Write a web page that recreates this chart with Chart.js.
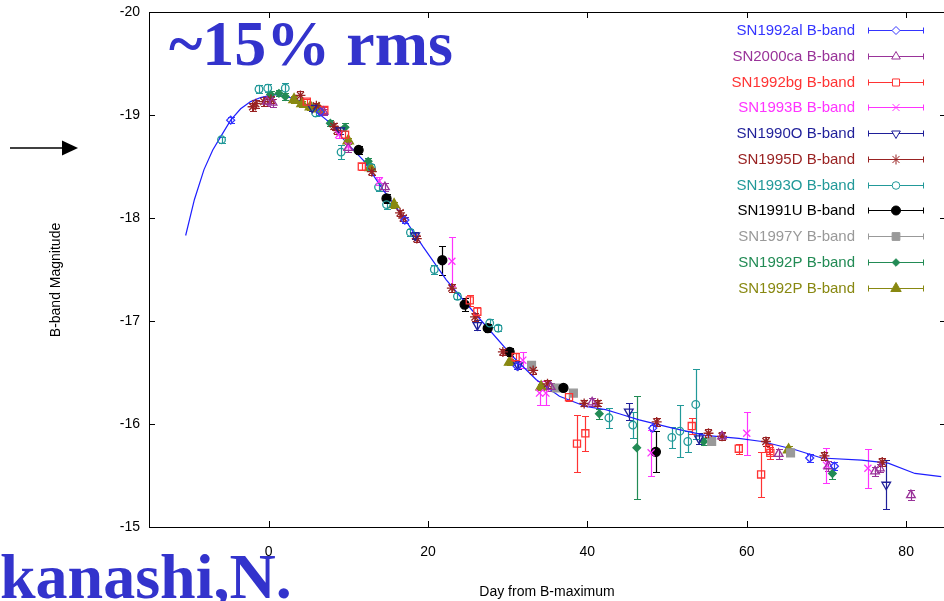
<!DOCTYPE html>
<html>
<head>
<meta charset="utf-8">
<script src="https://cdn.jsdelivr.net/npm/chart.js@4.4.1/dist/chart.umd.min.js"></script>
<style>
    html, body { margin: 0; padding: 0; background: #fff; overflow: hidden; }
    #c { display: block; }
</style>
</head>
<body>
<canvas id="c" width="947" height="601" style="width:947px;height:601px"></canvas>
<script>
// Light-curve data: day from B maximum, B-band magnitude, error
const xTicks = [0, 20, 40, 60, 80];
const yTicks = [-20, -19, -18, -17, -16, -15];

const templateDays = [-10.4, -9.3, -8.1, -7.0, -6.0, -4.75, -3.5, -2.25, -1.0, 0.25, 1.3, 2.3, 3.8, 5.25, 7.3, 9.8, 11.9, 14.4, 16.9, 19.4, 22.3, 24.8, 27.75, 30.7, 33.6, 36.5, 39.8, 42.3, 44.0, 46.5, 50.7, 54.8, 59.0, 61.9, 66.1, 69.4, 74.4, 77.75, 81.1, 84.4];
const templateMags = [-17.83, -18.18, -18.47, -18.66, -18.79, -18.95, -19.06, -19.13, -19.17, -19.19, -19.20, -19.18, -19.14, -19.08, -18.95, -18.73, -18.56, -18.27, -18.01, -17.72, -17.40, -17.17, -16.91, -16.65, -16.43, -16.27, -16.17, -16.14, -16.10, -16.04, -15.96, -15.89, -15.86, -15.83, -15.75, -15.67, -15.65, -15.62, -15.52, -15.49];

const sn1992alDays = [-4.75, 6.5, 17.1, 31.2, 48.2, 67.9, 71.0];
const sn1992alMags = [-18.95, -19.03, -17.98, -16.56, -15.96, -15.67, -15.59];
const sn1992alErrs = [0.03, 0.03, 0.03, 0.03, 0.03, 0.04, 0.04];

const sn2000caDays = [-0.2, 0.5, 6.9, 10.0, 14.6, 35.4, 40.6, 56.9, 64.0, 70.25, 76.1, 76.7, 80.6];
const sn2000caMags = [-19.13, -19.12, -19.03, -18.68, -18.30, -16.36, -16.21, -15.88, -15.71, -15.59, -15.54, -15.57, -15.31];
const sn2000caErrs = [0.04, 0.04, 0.03, 0.04, 0.04, 0.04, 0.04, 0.04, 0.05, 0.05, 0.04, 0.04, 0.05];

const sn1992bgDays = [4.8, 7.0, 9.6, 11.7, 25.25, 26.2, 31.0, 37.7, 38.7, 39.75, 53.1, 59.0, 61.8, 62.8, 62.96];
const sn1992bgMags = [-19.13, -19.05, -18.81, -18.50, -17.20, -17.09, -16.65, -16.26, -15.81, -15.91, -15.98, -15.76, -15.51, -15.76, -15.72];
const sn1992bgErrs = [0.03, 0.03, 0.03, 0.03, 0.05, 0.05, 0.04, 0.04, 0.28, 0.17, 0.08, 0.05, 0.22, 0.05, 0.06];

const sn1993bDays = [8.8, 10.0, 13.9, 23.0, 31.9, 34.0, 34.8, 48.0, 60.0, 70.0, 75.2];
const sn1993bMags = [-18.81, -18.70, -18.36, -17.58, -16.62, -16.30, -16.30, -15.72, -15.91, -15.60, -15.57];
const sn1993bErrs = [0.03, 0.04, 0.04, 0.24, 0.08, 0.12, 0.12, 0.22, 0.21, 0.17, 0.19];

const sn1990oDays = [5.5, 9.0, 18.4, 26.2, 31.3, 45.2, 54.0, 77.5];
const sn1990oMags = [-19.07, -18.85, -17.83, -16.96, -16.57, -16.12, -15.86, -15.41];
const sn1990oErrs = [0.03, 0.03, 0.03, 0.05, 0.04, 0.08, 0.05, 0.24];

const sn1995dDays = [-2.0, -1.6, -0.6, 0.3, 4.0, 6.0, 8.2, 8.6, 12.96, 16.5, 16.9, 18.6, 23.0, 25.9, 29.4, 33.2, 35.0, 39.6, 41.3, 48.7, 55.2, 56.9, 62.4, 69.75, 77.0];
const sn1995dMags = [-19.08, -19.11, -19.13, -19.15, -19.19, -19.09, -18.89, -18.85, -18.45, -18.05, -18.00, -17.80, -17.32, -17.04, -16.70, -16.52, -16.39, -16.20, -16.20, -16.02, -15.91, -15.88, -15.83, -15.69, -15.63];
const sn1995dErrs = [0.04, 0.04, 0.04, 0.03, 0.04, 0.03, 0.03, 0.03, 0.03, 0.03, 0.03, 0.03, 0.04, 0.04, 0.03, 0.03, 0.04, 0.03, 0.03, 0.04, 0.04, 0.04, 0.04, 0.04, 0.04];

const sn1993oDays = [-5.9, -1.2, -0.1, 2.1, 5.9, 9.1, 12.9, 13.8, 14.8, 17.8, 20.8, 23.7, 27.75, 28.8, 42.7, 45.7, 50.6, 51.6, 52.6, 53.6];
const sn1993oMags = [-18.76, -19.25, -19.26, -19.26, -19.02, -18.64, -18.49, -18.30, -18.13, -17.86, -17.50, -17.24, -16.98, -16.93, -16.06, -15.99, -15.87, -15.93, -15.83, -16.19];
const sn1993oErrs = [0.03, 0.04, 0.04, 0.05, 0.03, 0.07, 0.03, 0.04, 0.04, 0.03, 0.04, 0.03, 0.04, 0.03, 0.10, 0.13, 0.10, 0.25, 0.10, 0.34];

const sn1991uDays = [11.3, 14.8, 21.8, 24.6, 27.5, 30.25, 37.0, 48.6];
const sn1991uMags = [-18.66, -18.19, -17.59, -17.16, -16.93, -16.70, -16.35, -15.73];
const sn1991uErrs = [0.04, 0.04, 0.14, 0.06, 0.04, 0.04, 0.03, 0.20];

const sn1997yDays = [33.0, 36.1, 38.25, 55.6, 65.5];
const sn1997yMags = [-16.57, -16.35, -16.30, -15.83, -15.72];
const sn1997yErrs = [0.03, 0.03, 0.03, 0.03, 0.03];

const sn1992pGreenDays = [0.25, 1.3, 2.1, 7.75, 9.6, 12.5, 41.5, 46.2, 54.6, 70.75];
const sn1992pGreenMags = [-19.20, -19.21, -19.18, -18.92, -18.88, -18.55, -16.10, -15.77, -15.83, -15.52];
const sn1992pGreenErrs = [0.03, 0.03, 0.03, 0.03, 0.04, 0.03, 0.05, 0.50, 0.03, 0.05];

const sn1992pOliveDays = [3.2, 4.2, 5.25, 6.3, 10.0, 12.75, 15.75, 30.25, 34.2, 65.25];
const sn1992pOliveMags = [-19.15, -19.11, -19.08, -19.06, -18.75, -18.49, -18.13, -16.60, -16.36, -15.75];
const sn1992pOliveErrs = [0.03, 0.03, 0.03, 0.03, 0.03, 0.03, 0.03, 0.03, 0.03, 0.04];

(function () {
    "use strict";

    const SERIES = [
        { label: "SN1992al B-band", color: "#3434ff", style: "rectRot", radius: 4, fill: false, days: sn1992alDays, mags: sn1992alMags, errs: sn1992alErrs },
        { label: "SN2000ca B-band", color: "#993399", style: "triangle", radius: 5, fill: false, days: sn2000caDays, mags: sn2000caMags, errs: sn2000caErrs },
        { label: "SN1992bg B-band", color: "#ff3333", style: "rect", radius: 5, fill: false, days: sn1992bgDays, mags: sn1992bgMags, errs: sn1992bgErrs },
        { label: "SN1993B B-band", color: "#ff33ff", style: "crossRot", radius: 5, fill: false, days: sn1993bDays, mags: sn1993bMags, errs: sn1993bErrs },
        { label: "SN1990O B-band", color: "#1f1f99", style: "triangle", rotation: 180, radius: 5, fill: false, days: sn1990oDays, mags: sn1990oMags, errs: sn1990oErrs },
        { label: "SN1995D B-band", color: "#992222", style: "star", radius: 5, fill: false, days: sn1995dDays, mags: sn1995dMags, errs: sn1995dErrs },
        { label: "SN1993O B-band", color: "#229999", style: "circle", radius: 3.8, fill: false, days: sn1993oDays, mags: sn1993oMags, errs: sn1993oErrs },
        { label: "SN1991U B-band", color: "#000000", style: "circle", radius: 4.5, fill: true, days: sn1991uDays, mags: sn1991uMags, errs: sn1991uErrs },
        { label: "SN1997Y B-band", color: "#999999", style: "rect", radius: 5.5, fill: true, days: sn1997yDays, mags: sn1997yMags, errs: sn1997yErrs },
        { label: "SN1992P B-band", color: "#228b55", style: "rectRot", radius: 3.8, fill: true, days: sn1992pGreenDays, mags: sn1992pGreenMags, errs: sn1992pGreenErrs },
        { label: "SN1992P B-band", color: "#888811", style: "triangle", radius: 6, fill: true, days: sn1992pOliveDays, mags: sn1992pOliveMags, errs: sn1992pOliveErrs },
    ];

    const TICK_FONT = "14px 'Liberation Sans', Arial, sans-serif";
    const BLUE_TEXT = "#3333cc";

    // gnuplot-like frame with inward ticks and tick labels
    const frame = {
        id: "frame",
        beforeDatasetsDraw(chart) {
            const { ctx, chartArea: a, scales: { x, y } } = chart;
            ctx.save();
            ctx.strokeStyle = "#000";
            ctx.lineWidth = 1;
            ctx.strokeRect(Math.round(a.left) + 0.5, Math.round(a.top) + 0.5,
                Math.round(a.width), Math.round(a.height));
            ctx.beginPath();
            xTicks.forEach(v => {
                const px = Math.round(x.getPixelForValue(v)) + 0.5;
                ctx.moveTo(px, a.bottom); ctx.lineTo(px, a.bottom - 6);
                ctx.moveTo(px, a.top); ctx.lineTo(px, a.top + 6);
            });
            yTicks.forEach(v => {
                const py = Math.round(y.getPixelForValue(v)) + 0.5;
                ctx.moveTo(a.left, py); ctx.lineTo(a.left + 6, py);
                ctx.moveTo(a.right, py); ctx.lineTo(a.right - 6, py);
            });
            ctx.stroke();

            ctx.fillStyle = "#000";
            ctx.font = TICK_FONT;
            ctx.textAlign = "center";
            ctx.textBaseline = "middle";
            xTicks.forEach(v => ctx.fillText(String(v), x.getPixelForValue(v), 552));
            ctx.textAlign = "right";
            yTicks.forEach(v => ctx.fillText(String(v), 140, y.getPixelForValue(v)));
            ctx.restore();
        },
    };

    const errorBars = {
        id: "errorBars",
        beforeDatasetsDraw(chart) {
            const { ctx, chartArea: a, scales: { x, y } } = chart;
            ctx.save();
            ctx.beginPath();
            ctx.rect(a.left, a.top, a.width, a.height);
            ctx.clip();
            ctx.lineWidth = 1.2;
            chart.data.datasets.forEach(ds => {
                if (!ds.errs) { return; }
                ctx.strokeStyle = ds.borderColor;
                ctx.beginPath();
                ds.data.forEach((p, i) => {
                    const px = Math.round(x.getPixelForValue(p.x)) + 0.5;
                    const y1 = Math.round(y.getPixelForValue(p.y - ds.errs[i])) + 0.5;
                    const y2 = Math.round(y.getPixelForValue(p.y + ds.errs[i])) + 0.5;
                    ctx.moveTo(px, y1); ctx.lineTo(px, y2);
                    ctx.moveTo(px - 3.5, y1); ctx.lineTo(px + 3.5, y1);
                    ctx.moveTo(px - 3.5, y2); ctx.lineTo(px + 3.5, y2);
                });
                ctx.stroke();
            });
            ctx.restore();
        },
    };

    const decorations = {
        id: "decorations",
        afterDraw(chart) {
            const { ctx } = chart;
            ctx.save();

            // legend: right-aligned label, sample error bar with marker
            SERIES.forEach((s, i) => {
                const yy = Math.round(30 + i * 25.75) + 0.5;
                ctx.font = "15px 'Liberation Sans', Arial, sans-serif";
                ctx.textAlign = "right";
                ctx.textBaseline = "middle";
                ctx.fillStyle = s.color;
                ctx.fillText(s.label, 855, yy);
                ctx.strokeStyle = s.color;
                ctx.lineWidth = 1;
                ctx.beginPath();
                ctx.moveTo(868, yy); ctx.lineTo(924, yy);
                ctx.moveTo(868.5, yy - 3); ctx.lineTo(868.5, yy + 3);
                ctx.moveTo(923.5, yy - 3); ctx.lineTo(923.5, yy + 3);
                ctx.stroke();
                ctx.fillStyle = s.fill ? s.color : "#fff";
                Chart.helpers.drawPoint(ctx, {
                    pointStyle: s.style, rotation: s.rotation || 0,
                    radius: s.radius, borderWidth: 1.2,
                }, 896, yy);
            });

            // axis titles
            ctx.fillStyle = "#000";
            ctx.font = TICK_FONT;
            ctx.textAlign = "center";
            ctx.textBaseline = "middle";
            ctx.fillText("Day from B-maximum", 547, 592);
            ctx.save();
            ctx.translate(56, 280);
            ctx.rotate(-Math.PI / 2);
            ctx.fillText("B-band Magnitude", 0, 0);
            ctx.restore();

            // arrow at left
            ctx.strokeStyle = "#000";
            ctx.lineWidth = 1.5;
            ctx.beginPath();
            ctx.moveTo(10, 148); ctx.lineTo(64, 148);
            ctx.stroke();
            ctx.beginPath();
            ctx.moveTo(78, 148); ctx.lineTo(62, 140.5); ctx.lineTo(62, 155.5);
            ctx.closePath();
            ctx.fillStyle = "#000";
            ctx.fill();

            // overlay annotations
            ctx.fillStyle = BLUE_TEXT;
            ctx.textAlign = "left";
            ctx.textBaseline = "alphabetic";
            ctx.font = "bold 64px 'Liberation Serif', 'Times New Roman', serif";
            ctx.fillText("~15% rms", 169, 65);
            ctx.fillText("kanashi,N.", 0, 598);

            ctx.restore();
        },
    };

    const datasets = SERIES.map(s => ({
        label: s.label,
        data: s.days.map((d, i) => ({ x: d, y: s.mags[i] })),
        errs: s.errs,
        showLine: false,
        pointStyle: s.style,
        pointRadius: s.radius,
        pointHoverRadius: s.radius,
        pointRotation: s.rotation || 0,
        borderColor: s.color,
        backgroundColor: s.fill ? s.color : "rgba(0,0,0,0)",
        borderWidth: 1.3,
    }));
    datasets.push({
        label: "template",
        data: templateDays.map((d, i) => ({ x: d, y: templateMags[i] })),
        showLine: true,
        pointRadius: 0,
        borderColor: "#1e1eff",
        borderWidth: 1.2,
        tension: 0,
        fill: false,
    });

    new Chart(document.getElementById("c").getContext("2d"), {
        type: "scatter",
        data: { datasets },
        options: {
            responsive: false,
            animation: false,
            events: [],
            layout: { autoPadding: false, padding: { left: 0, top: 12, right: 1, bottom: 0 } },
            plugins: { legend: { display: false }, tooltip: { enabled: false } },
            scales: {
                x: {
                    type: "linear", min: -15, max: 85,
                    afterFit: sc => { sc.height = 74; sc.paddingLeft = 0; sc.paddingRight = 0; },
                    grid: { display: false, drawTicks: false },
                    border: { display: false },
                    ticks: { display: false },
                },
                y: {
                    type: "linear", min: -20, max: -15, reverse: true,
                    afterFit: sc => { sc.width = 149; sc.paddingTop = 0; sc.paddingBottom = 0; },
                    grid: { display: false, drawTicks: false },
                    border: { display: false },
                    ticks: { display: false },
                },
            },
        },
        plugins: [frame, errorBars, decorations],
    });
})();
</script>
</body>
</html>
